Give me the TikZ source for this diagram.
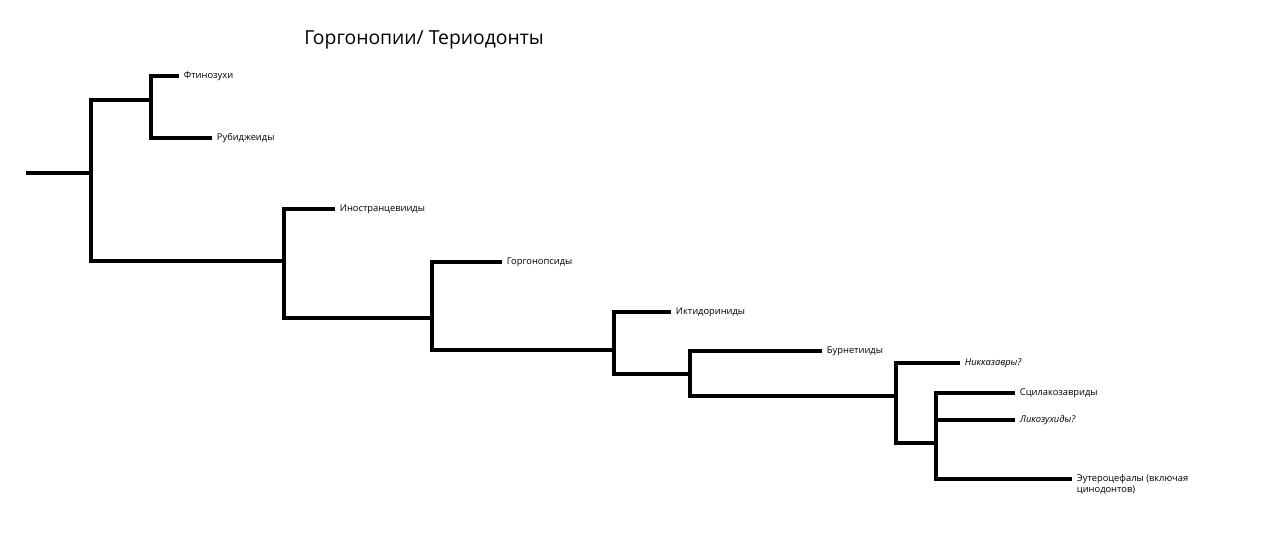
\documentclass[tikz,border=0pt]{standalone}
\usepackage{fontspec}
\setmainfont{Open Sans}
\begin{document}
\begin{tikzpicture}[x=0.75pt,y=-0.75pt,
  br/.style={line width=2.3pt,line cap=rect},
  lf/.style={anchor=west,inner sep=0pt,font=\fontsize{7}{8.5}\selectfont,xshift=5pt},
  lfi/.style={lf,font=\fontsize{7}{8.5}\selectfont\itshape}]
\useasboundingbox (0,0) rectangle (1280,553);
\node[anchor=west,inner sep=0pt,font=\fontsize{14.5}{16}\selectfont] (title) at (304,40) {Горгонопии/ Териодонты};
\coordinate (r0) at (28,173);
\coordinate (j1) at (91,173);
\coordinate (c1) at (151,100);
\coordinate (c2) at (284,261);
\coordinate (c3) at (432,318);
\coordinate (c4) at (614,350);
\coordinate (c5) at (690,374);
\coordinate (c6) at (896,396);
\coordinate (c7) at (936,443);
\coordinate (e1) at (177,76);
\coordinate (e2) at (210,138);
\coordinate (e3) at (333,209);
\coordinate (e4) at (500,262);
\coordinate (e5) at (669,312);
\coordinate (e6) at (820,351);
\coordinate (e7) at (958,363);
\coordinate (e8) at (1013,393);
\coordinate (e9) at (1013,420);
\coordinate (e10) at (1070,479);
\node[lf] (l1) at (e1) {Фтинозухи};
\node[lf] (l2) at (e2) {Рубиджеиды};
\node[lf] (l3) at (e3) {Иностранцевииды};
\node[lf] (l4) at (e4) {Горгонопсиды};
\node[lf] (l5) at (e5) {Иктидориниды};
\node[lf] (l6) at (e6) {Бурнетииды};
\node[lfi] (l7) at (e7) {Никказавры?};
\node[lf] (l8) at (e8) {Сцилакозавриды};
\node[lfi] (l9) at (e9) {Ликозухиды?};
\node[lf,anchor=north west,yshift=4pt,align=left] (l10) at (e10) {Эутероцефалы (включая\\цинодонтов)};
\draw[br] (r0) -- (j1);
\draw[br] (j1) |- (c1); \draw[br] (j1) |- (c2);
\draw[br] (c1) |- (e1); \draw[br] (c1) |- (e2);
\draw[br] (c2) |- (e3); \draw[br] (c2) |- (c3);
\draw[br] (c3) |- (e4); \draw[br] (c3) |- (c4);
\draw[br] (c4) |- (e5); \draw[br] (c4) |- (c5);
\draw[br] (c5) |- (e6); \draw[br] (c5) |- (c6);
\draw[br] (c6) |- (e7); \draw[br] (c6) |- (c7);
\draw[br] (c7) |- (e8); \draw[br] (c7) |- (e9); \draw[br] (c7) |- (e10);
\end{tikzpicture}
\end{document}
